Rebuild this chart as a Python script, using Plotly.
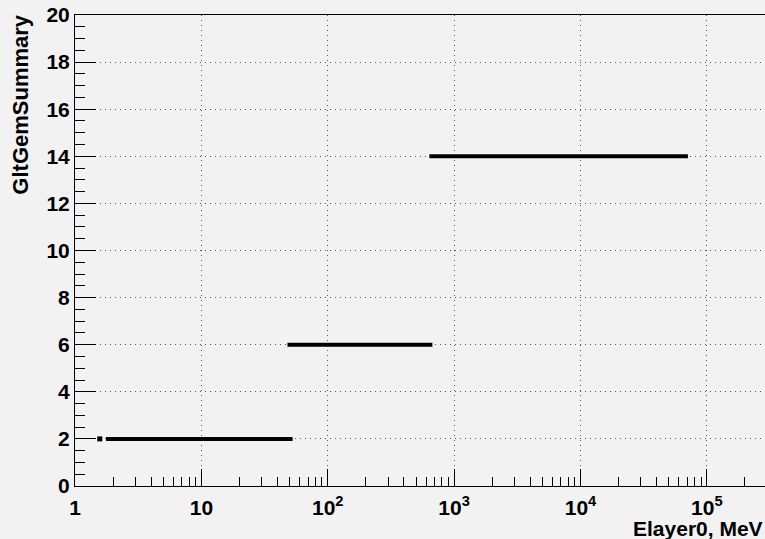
import plotly.graph_objects as go

# Data
seg_x_start = [1.76, 48, 637]
seg_x_end = [52.7, 673, 70800]
seg_y = [2, 6, 14]
dot_x = [1.57]
dot_y = [2]

x_tick_vals = [1, 10, 100, 1000, 10000, 100000]
x_tick_text = ["1", "10", "10<sup>2</sup>", "10<sup>3</sup>", "10<sup>4</sup>", "10<sup>5</sup>"]
y_tick_vals = [0, 2, 4, 6, 8, 10, 12, 14, 16, 18, 20]

x_minor = [m * 10 ** k for k in range(0, 6) for m in range(2, 10)]

fig = go.Figure()
for xs, xe, y in zip(seg_x_start, seg_x_end, seg_y):
    fig.add_trace(go.Scatter(x=[xs, xe], y=[y, y], mode="lines",
                             line=dict(color="black", width=4), showlegend=False,
                             hoverinfo="skip"))
fig.add_trace(go.Scatter(x=dot_x, y=dot_y, mode="markers",
                         marker=dict(color="black", size=5, symbol="square"),
                         showlegend=False, hoverinfo="skip"))

font = "Liberation Sans, Arial, sans-serif"
grid_dash = "1px,4px"
fig.update_layout(
    width=765, height=539,
    margin=dict(l=75, r=0, t=15, b=53),
    paper_bgcolor="#f2f2f2", plot_bgcolor="#f2f2f2",
    font=dict(family=font, color="black"),
    xaxis=dict(
        type="log", range=[0, 5.46],
        tickmode="array", tickvals=x_tick_vals, ticktext=x_tick_text,
        ticks="inside", ticklen=17, tickcolor="black", tickwidth=1,
        tickfont=dict(family=font, size=21, color="black", weight="bold"),
        ticklabelstandoff=3,
        showline=True, linecolor="black", linewidth=1, mirror=True,
        showgrid=True, gridcolor="#555555", griddash=grid_dash, gridwidth=1,
        zeroline=False,
        minor=dict(tickmode="array", tickvals=x_minor, ticks="inside", ticklen=9,
                   tickcolor="black", showgrid=False),
    ),
    yaxis=dict(
        range=[0, 20],
        tickmode="array", tickvals=y_tick_vals,
        ticks="inside", ticklen=21, tickcolor="black", tickwidth=1,
        tickfont=dict(family=font, size=21, color="black", weight="bold"),
        showline=True, linecolor="black", linewidth=1,
        showgrid=True, gridcolor="#555555", griddash=grid_dash, gridwidth=1,
        zeroline=False,
        minor=dict(dtick=0.5, ticks="inside", ticklen=10, tickcolor="black", showgrid=False),
    ),
    annotations=[
        dict(text="<b>Elayer0, MeV</b>", xref="paper", yref="paper", x=1, y=-0.062,
             xanchor="right", yanchor="top", showarrow=False,
             font=dict(family=font, size=21, color="black")),
        dict(text="<b>GltGemSummary</b>", xref="paper", yref="paper",
             x=-54 / 690, y=1.005, xanchor="center", yanchor="top", textangle=-90,
             showarrow=False, font=dict(family=font, size=22, color="black")),
    ],
)

fig.write_html(
    "out.html",
    config={"displayModeBar": False},
    post_script="document.body.style.margin='0';document.body.style.background='#f2f2f2';",
)
